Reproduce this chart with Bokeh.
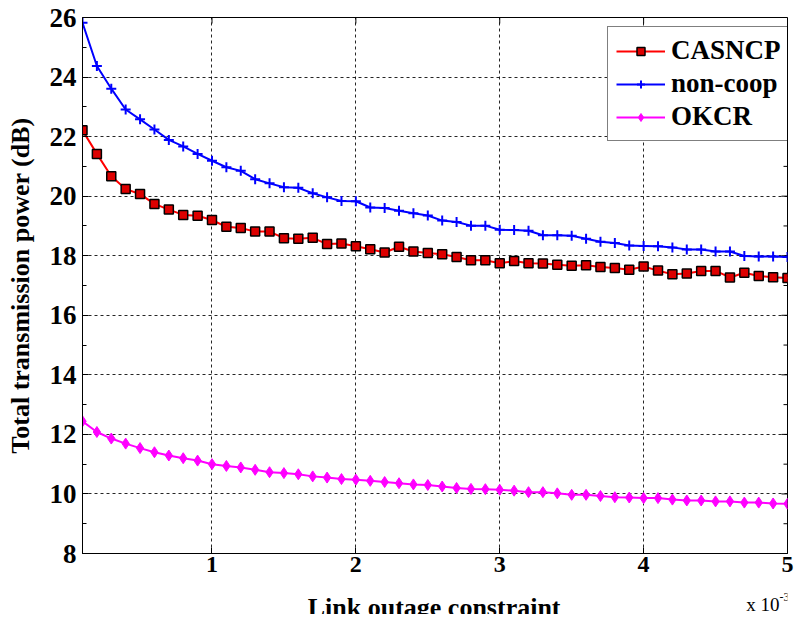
import math
from bokeh.plotting import figure
from bokeh.layouts import column
from bokeh.models import Range1d, FixedTicker, Label
from bokeh.embed import file_html
from bokeh.resources import INLINE

# ---- data ----
x_vals = [0.1, 0.2, 0.3, 0.4, 0.5, 0.6, 0.7, 0.8, 0.9, 1.0,
          1.1, 1.2, 1.3, 1.4, 1.5, 1.6, 1.7, 1.8, 1.9, 2.0,
          2.1, 2.2, 2.3, 2.4, 2.5, 2.6, 2.7, 2.8, 2.9, 3.0,
          3.1, 3.2, 3.3, 3.4, 3.5, 3.6, 3.7, 3.8, 3.9, 4.0,
          4.1, 4.2, 4.3, 4.4, 4.5, 4.6, 4.7, 4.8, 4.9, 5.0]

casncp = [22.21, 21.42, 20.67, 20.24, 20.07, 19.74, 19.55, 19.37, 19.34, 19.20,
          18.97, 18.93, 18.81, 18.81, 18.59, 18.57, 18.60, 18.39, 18.41, 18.32,
          18.22, 18.11, 18.30, 18.14, 18.09, 18.05, 17.96, 17.85, 17.85, 17.75,
          17.82, 17.75, 17.74, 17.70, 17.66, 17.68, 17.62, 17.59, 17.53, 17.64,
          17.50, 17.38, 17.40, 17.49, 17.49, 17.27, 17.43, 17.32, 17.28, 17.25]

noncoop = [25.82, 24.37, 23.61, 22.91, 22.58, 22.24, 21.89, 21.67, 21.42, 21.19,
           20.97, 20.85, 20.57, 20.43, 20.30, 20.28, 20.10, 19.96, 19.84, 19.83,
           19.62, 19.60, 19.51, 19.43, 19.35, 19.18, 19.13, 19.01, 19.01, 18.87,
           18.86, 18.84, 18.69, 18.69, 18.67, 18.57, 18.47, 18.43, 18.34, 18.33,
           18.32, 18.28, 18.21, 18.21, 18.14, 18.14, 17.99, 17.97, 17.97, 17.96]

okcr = [12.44, 12.08, 11.86, 11.69, 11.54, 11.40, 11.29, 11.20, 11.12, 11.00,
        10.94, 10.89, 10.81, 10.73, 10.70, 10.66, 10.59, 10.55, 10.50, 10.48,
        10.44, 10.40, 10.36, 10.32, 10.30, 10.25, 10.20, 10.17, 10.16, 10.14,
        10.11, 10.06, 10.06, 10.02, 9.97, 9.97, 9.93, 9.89, 9.88, 9.86,
        9.86, 9.81, 9.78, 9.78, 9.75, 9.75, 9.71, 9.71, 9.68, 9.67]

x_ticks = [1, 2, 3, 4, 5]
y_ticks = [8, 10, 12, 14, 16, 18, 20, 22, 24, 26]
y_minor = [9, 11, 13, 15, 17, 19, 21, 23, 25]
X_MIN, X_MAX = 0.1, 5.0
Y_MIN, Y_MAX = 8, 26

x_label = "Link outage constraint"
y_label = "Total transmission power (dB)"
exp_base = "x 10"
exp_power = "-3"
FONT = "Liberation Serif"

W = 794
p = figure(width=W, height=584, output_backend="svg", toolbar_location=None,
           x_range=Range1d(X_MIN, X_MAX), y_range=Range1d(Y_MIN, Y_MAX),
           min_border_left=82, min_border_right=7, min_border_top=17,
           min_border_bottom=31)
p.outline_line_color = "black"
p.outline_line_width = 1
p.background_fill_color = "white"
p.border_fill_color = "white"

xt = FixedTicker(ticks=x_ticks, minor_ticks=[])
yt = FixedTicker(ticks=y_ticks, minor_ticks=y_minor)


def style_axis(ax, ticker, tick_size):
    ax.ticker = ticker
    ax.axis_line_color = "black"
    ax.major_tick_line_color = "black"
    ax.minor_tick_line_color = "black"
    ax.major_tick_in = 6
    ax.major_tick_out = 0
    ax.minor_tick_in = 4
    ax.minor_tick_out = 0
    ax.major_label_text_font = FONT
    ax.major_label_text_font_size = tick_size
    ax.major_label_text_font_style = "bold"
    ax.major_label_text_color = "black"
    ax.axis_label_text_font = FONT
    ax.axis_label_text_font_style = "bold"
    ax.axis_label_text_color = "black"


xa = p.xaxis[0]
style_axis(xa, xt, "24px")
xa.major_label_standoff = 3

ya = p.yaxis[0]
style_axis(ya, yt, "27px")
ya.axis_label = y_label
ya.axis_label_text_font_size = "26px"
ya.major_label_standoff = 6
ya.axis_label_standoff = 12

# box ticks on the right and top edges (inward)
p.ray(x=[X_MAX] * len(y_ticks), y=y_ticks, length=6, length_units="screen",
      angle=math.pi, line_color="black", line_width=1)
p.ray(x=[X_MAX] * len(y_minor), y=y_minor, length=4, length_units="screen",
      angle=math.pi, line_color="black", line_width=1)
p.ray(x=x_ticks, y=[Y_MAX] * len(x_ticks), length=6, length_units="screen",
      angle=-math.pi / 2, line_color="black", line_width=1)

for g, t in ((p.xgrid[0], xt), (p.ygrid[0], yt)):
    g.ticker = t
    g.grid_line_color = "black"
    g.grid_line_dash = "3 3"
    g.grid_line_width = 1
    g.grid_line_alpha = 0.85

# CASNCP
p.line(x_vals, casncp, line_color="red", line_width=2, legend_label="CASNCP")
p.scatter(x_vals, casncp, marker="square", size=9, fill_color="#dd0000",
          line_color="black", line_width=1.5, legend_label="CASNCP")
# non-coop
p.line(x_vals, noncoop, line_color="blue", line_width=2, legend_label="non-coop")
p.scatter(x_vals, noncoop, marker="cross", size=10, line_color="blue",
          line_width=2, legend_label="non-coop")
# OKCR
p.line(x_vals, okcr, line_color="magenta", line_width=2, legend_label="OKCR")
p.scatter(x_vals, okcr, marker="diamond", size=11, fill_color="magenta",
          line_color="magenta", line_width=1, legend_label="OKCR")

lg = p.legend[0]
lg.location = (525, 412)
lg.margin = 0
lg.padding = 8
lg.spacing = 2
lg.label_height = 30
lg.glyph_width = 49
lg.glyph_height = 20
lg.label_standoff = 6
lg.label_text_font = FONT
lg.label_text_font_size = "27px"
lg.label_text_font_style = "bold"
lg.label_text_color = "black"
lg.border_line_color = "black"
lg.border_line_width = 1
lg.background_fill_color = "white"
lg.background_fill_alpha = 1.0

# ---- strip below the plot: x-axis title and the "x 10^-3" exponent note ----
SH = 30
strip = figure(width=W, height=SH, output_backend="svg", toolbar_location=None,
               title=None, x_range=Range1d(0, W), y_range=Range1d(0, SH),
               x_axis_location=None, y_axis_location=None,
               min_border_left=0, min_border_right=0, min_border_top=0,
               min_border_bottom=0)
strip.outline_line_color = None
strip.grid.visible = False
strip.background_fill_color = "white"
strip.border_fill_color = "white"

strip.add_layout(Label(x=396, y=7, text=x_label, text_align="center",
                       text_baseline="alphabetic", text_font=FONT,
                       text_font_size="26px", text_font_style="bold",
                       text_color="black"))
strip.add_layout(Label(x=785, y=10, text=exp_base, text_align="right",
                       text_baseline="alphabetic", text_font=FONT,
                       text_font_size="19px", text_color="black"))
strip.add_layout(Label(x=785, y=18, text=exp_power, text_align="left",
                       text_baseline="alphabetic", text_font=FONT,
                       text_font_size="12px", text_color="black"))

layout = column(p, strip, spacing=0)
open("out.html", "w").write(file_html(layout, INLINE))
